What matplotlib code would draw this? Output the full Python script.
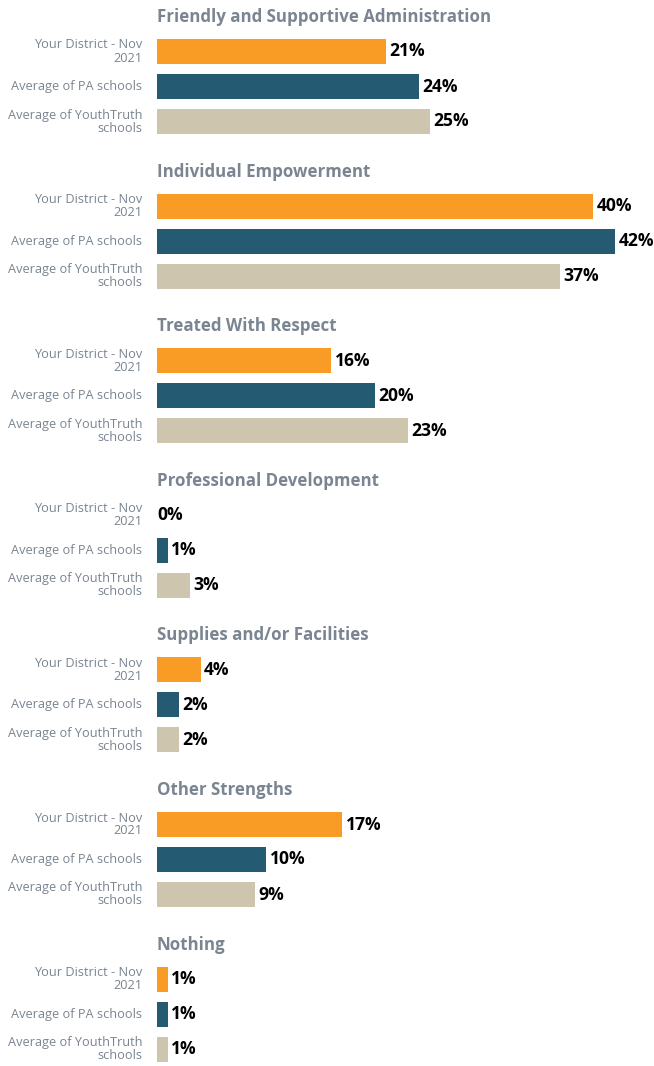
import matplotlib
matplotlib.use("Agg")
import matplotlib.pyplot as plt

plt.rcParams['font.family'] = ['Open Sans', 'DejaVu Sans']

categories = ["Friendly and Supportive Administration", "Individual Empowerment",
              "Treated With Respect", "Professional Development",
              "Supplies and/or Facilities", "Other Strengths", "Nothing"]
series_names = ["Your District - Nov\n2021", "Average of PA schools",
                "Average of YouthTruth\nschools"]
district = [21, 40, 16, 0, 4, 17, 1]
pa_avg = [24, 42, 20, 1, 2, 10, 1]
yt_avg = [25, 37, 23, 3, 2, 9, 1]
series = [district, pa_avg, yt_avg]
colors = ["#F89C25", "#245A72", "#CDC5AE"]

W, H = 654, 1066
fig = plt.figure(figsize=(W / 100, H / 100), dpi=100)
left = 157
ax = fig.add_axes([left / W, 0, (W - left) / W, 1])
px_per_pct = 10.9
unit = 35.0
off = 16.5
ax.set_xlim(0, (W - left) / px_per_pct)
ax.set_ylim((H - off) / unit, -off / unit)
ax.axis('off')

pitch = 154.6 / unit
label_col = "#7A8591"
for g, cat in enumerate(categories):
    ty = g * pitch
    ax.text(0, ty + 5.5 / unit, cat, ha='left', va='baseline', fontsize=12.2,
            fontweight='bold', color="#7A8591")
    for i, (vals, col, name) in enumerate(zip(series, colors, series_names)):
        y = ty + 1 + i
        v = vals[g]
        ax.barh(y, v, height=25 / unit, color=col, left=0)
        ax.annotate(f"{v}%", xy=(v, y), xytext=(2.5 if v > 0 else 0.5, 0),
                    textcoords='offset points', ha='left', va='center',
                    fontsize=12.6, fontweight='bold', color='black')
        ax.annotate(name, xy=(0, y), xytext=(-10.5, 0), textcoords='offset points',
                    ha='right', va='center', fontsize=9.2, color=label_col,
                    linespacing=1.0, annotation_clip=False)

fig.savefig("out.png", dpi=100)
